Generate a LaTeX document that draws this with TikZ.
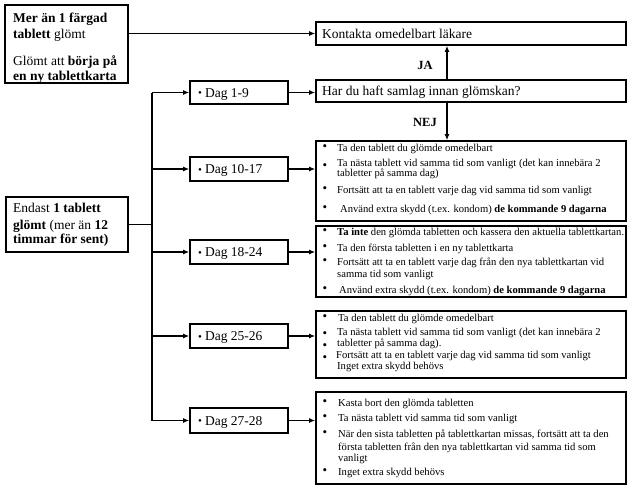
\documentclass[tikz,border=0pt]{standalone}
\usepackage{fontspec}
\setmainfont{Liberation Serif}
\usetikzlibrary{arrows.meta}
\tikzset{
  frame/.style={draw, line width=1.6pt, inner sep=0pt},
  conn/.style={line width=1.3pt},
  arr/.style={conn, -{Latex[length=6pt,width=5pt]}},
  head/.style={font=\fontsize{13.5}{15}\selectfont, inner sep=0pt, anchor=base west},
  item/.style={font=\fontsize{10.6}{11}\selectfont, inner sep=0pt, anchor=base west},
  bul/.style={font=\fontsize{13}{13}\selectfont, inner sep=0pt},
  lab/.style={font=\fontsize{12.5}{14}\selectfont\bfseries, inner sep=0pt}
}
\begin{document}
\begin{tikzpicture}[x=1pt,y=-1pt]
\useasboundingbox (0,0) rectangle (636,495);
% frames
\node[frame, minimum width=123pt, minimum height=78pt] (tl) at (66.5,44) {};
\node[frame, minimum width=310pt, minimum height=23pt] (kont) at (471,33.5) {};
\node[frame, minimum width=310pt, minimum height=22pt] (har) at (471,91) {};
\node[frame, minimum width=122pt, minimum height=55pt] (endast) at (67,224.5) {};
\node[frame, minimum width=98pt, minimum height=23pt] (dag1) at (239,92.5) {};
\node[frame, minimum width=98pt, minimum height=24pt] (dag2) at (239,169) {};
\node[frame, minimum width=98pt, minimum height=24pt] (dag3) at (239,252) {};
\node[frame, minimum width=98pt, minimum height=24pt] (dag4) at (239,336) {};
\node[frame, minimum width=98pt, minimum height=25pt] (dag5) at (239,420.5) {};
\node[frame, minimum width=310pt, minimum height=80pt] (b1) at (471,181) {};
\node[frame, minimum width=310pt, minimum height=71pt] (b2) at (471,261.5) {};
\node[frame, minimum width=310pt, minimum height=67pt] (b3) at (471,344.5) {};
\node[frame, minimum width=310pt, minimum height=92pt] (b4) at (471,438) {};
% texts: left boxes
\node[head] (tl1) at (13,22.5) {\textbf{Mer än 1 färgad}};
\node[head] (tl2) at (13,39) {\textbf{tablett} glömt};
\node[head] (tl3) at (13,66) {Glömt att \textbf{börja på}};
\node[head] (tl4) at (13,80.5) {\textbf{en ny tablettkarta}};
\node[head] (en1) at (13,212.5) {Endast \textbf{1 tablett}};
\node[head] (en2) at (13,229.5) {\textbf{glömt} (mer än \textbf{12}};
\node[head] (en3) at (13,243.5) {\textbf{timmar för sent)}};
% headline boxes
\node[head] (kt) at (322,38.5) {Kontakta omedelbart läkare};
\node[head] (ht) at (322,95.5) {Har du haft samlag innan glömskan?};
% day boxes
\foreach \n/\t in {dag1/Dag 1-9, dag2/Dag 10-17, dag3/Dag 18-24, dag4/Dag 25-26, dag5/Dag 27-28}{
  \node[head] (\n t) at ([xshift=-41pt,yshift=-4.5pt]\n.center) {\raisebox{0.5pt}{\fontsize{11}{11}\selectfont\textbullet}\hspace{3pt}\t};
}
% labels
\node[lab] (ja) at (425,65) {JA};
\node[lab] (nej) at (425,122) {NEJ};
% box 1
\node[item] (b1a) at (337,151.5) {Ta den tablett du glömde omedelbart};
\node[item] (b1b) at (337,166.5) {Ta nästa tablett vid samma tid som vanligt (det kan innebära 2};
\node[item] (b1c) at (337,176.5) {tabletter på samma dag)};
\node[item] (b1d) at (337,193.5) {Fortsätt att ta en tablett varje dag vid samma tid som vanligt};
\node[item] (b1e) at (340,212.5) {Använd extra skydd (t.ex. kondom) \textbf{de kommande 9 dagarna}};
\foreach \y [count=\i] in {148,167,190,209}{\node[bul] (b1p\i) at (325,\y) {\textbullet};}
% box 2
\node[item] (b2a) at (337,235.5) {\textbf{Ta inte} den glömda tabletten och kassera den aktuella tablettkartan.};
\node[item] (b2b) at (337,251.5) {Ta den första tabletten i en ny tablettkarta};
\node[item] (b2c) at (337,265.5) {Fortsätt att ta en tablett varje dag från den nya tablettkartan vid};
\node[item] (b2d) at (337,277.5) {samma tid som vanligt};
\node[item] (b2e) at (339,293.5) {Använd extra skydd (t.ex. kondom) \textbf{de kommande 9 dagarna}};
\foreach \y [count=\i] in {232,248,262,290}{\node[bul] (b2p\i) at (325,\y) {\textbullet};}
% box 3
\node[item] (b3a) at (338,321.5) {Ta den tablett du glömde omedelbart};
\node[item] (b3b) at (337,335.5) {Ta nästa tablett vid samma tid som vanligt (det kan innebära 2};
\node[item] (b3c) at (337,346.5) {tabletter på samma dag).};
\node[item] (b3d) at (336,358.5) {Fortsätt att ta en tablett varje dag vid samma tid som vanligt};
\node[item] (b3e) at (337,369.5) {Inget extra skydd behövs};
\foreach \y [count=\i] in {318,335,347,359}{\node[bul] (b3p\i) at (325,\y) {\textbullet};}
% box 4
\node[item] (b4a) at (338,406.5) {Kasta bort den glömda tabletten};
\node[item] (b4b) at (338,421.5) {Ta nästa tablett vid samma tid som vanligt};
\node[item] (b4c) at (338,437.5) {När den sista tabletten på tablettkartan missas, fortsätt att ta den};
\node[item] (b4d) at (338,450) {första tabletten från den nya tablettkartan vid samma tid som};
\node[item] (b4e) at (338,461.5) {vanligt};
\node[item] (b4f) at (338,475.5) {Inget extra skydd behövs};
\foreach \y [count=\i] in {403,418,434,472}{\node[bul] (b4p\i) at (325,\y) {\textbullet};}
% connectors
\coordinate (tx) at (152,0);
\coordinate (jx) at (447,0);
\draw[arr] (tl.east |- kont.west) -- (kont.west);
\draw[arr] (har.north -| jx) -- (kont.south -| jx);
\draw[arr] (har.south -| jx) -- (b1.north -| jx);
\draw[conn] (endast.east) -- (endast.east -| tx);
\draw[conn] (dag1.west -| tx) -- (dag5.west -| tx);
\foreach \d/\b in {dag1/har, dag2/b1, dag3/b2, dag4/b3, dag5/b4}{
  \draw[arr] (\d.west -| tx) -- (\d.west);
  \draw[arr] (\d.east) -- (\d.east -| \b.west);
}
\end{tikzpicture}
\end{document}
